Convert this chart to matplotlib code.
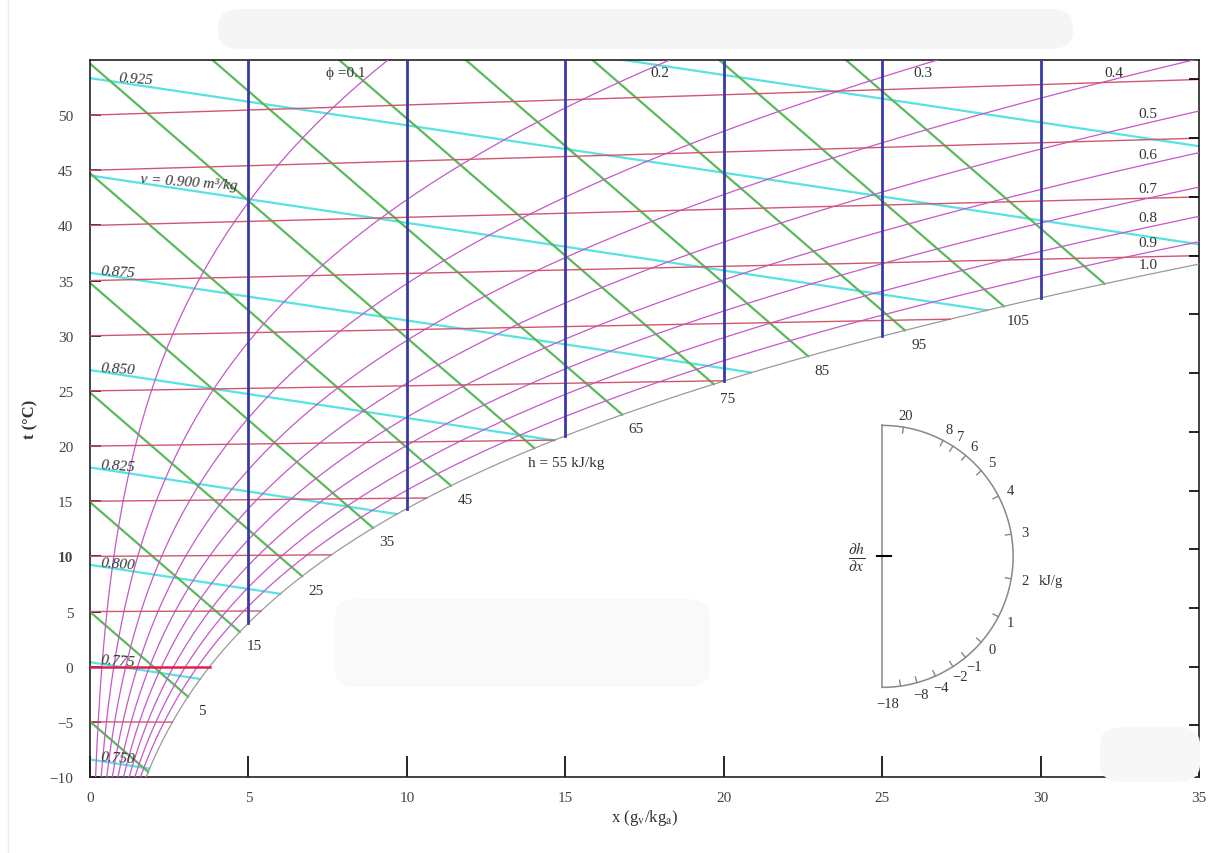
import numpy as np
import matplotlib.pyplot as plt
import matplotlib.transforms as mtransforms
from matplotlib.patches import FancyBboxPatch

plt.rcParams['font.family'] = ['Liberation Serif', 'DejaVu Serif']
plt.rcParams['mathtext.fontset'] = 'stix'

# ---- chart values ----
P = 101.325  # total pressure, kPa

rh_levels = [0.1, 0.2, 0.3, 0.4, 0.5, 0.6, 0.7, 0.8, 0.9, 1.0]
t_levels = [-5, 0, 5, 10, 15, 20, 25, 30, 35, 40, 45, 50]
h_levels = [-5, 5, 15, 25, 35, 45, 55, 65, 75, 85, 95, 105, 115]
h_labelled = [5, 15, 25, 35, 45, 55, 65, 75, 85, 95, 105]
v_levels = [0.750, 0.775, 0.800, 0.825, 0.850, 0.875, 0.900, 0.925, 0.950]
v_labelled = ['0.750', '0.775', '0.800', '0.825', '0.850', '0.875',
              'v = 0.900 m³/kg', '0.925']
x_verticals = [5, 10, 15, 20, 25, 30]
x_ticks = [0, 5, 10, 15, 20, 25, 30, 35]
t_ticks = [-10, -5, 0, 5, 10, 15, 20, 25, 30, 35, 40, 45, 50]
slope_ticks = [20, 8, 7, 6, 5, 4, 3, 2, 1, 0, -1, -2, -4, -8, -18]


# ---- psychrometric relations ----
def psat(t):
    return 0.61094 * np.exp(17.625 * t / (t + 243.04))

def x_of(t, phi):
    pv = phi * psat(t)
    return 622.0 * pv / (P - pv)

def t_of(x, phi):
    pv = P * x / (622.0 + x) / phi
    a = np.log(pv / 0.61094)
    return 243.04 * a / (17.625 - a)

def ycoord(t, x):
    # Mollier-type ordinate: t=0 isotherm horizontal
    return t * (1.006 + 0.00186 * x) / 1.006

def enth(t, x):
    return 1.006 * t + x * (2.501 + 0.00186 * t)


fig = plt.figure(figsize=(12.11, 8.54), dpi=100)
fig.patch.set_facecolor('white')

# faint smudges of the scanned original
for (x0, y0, w, h, c) in [(218, 10, 855, 40, '#f5f5f5'), (335, 600, 375, 88, '#f9f9f9'),
                          (1100, 728, 100, 55, '#f7f7f7')]:
    fig.patches.append(FancyBboxPatch((x0 / 1211, 1 - (y0 + h) / 854), w / 1211, h / 854,
                                      boxstyle='round,pad=0,rounding_size=0.02',
                                      transform=fig.transFigure, fc=c, ec='none',
                                      zorder=0))
fig.lines.append(plt.Line2D([8 / 1211, 8 / 1211], [0, 1], transform=fig.transFigure,
                            color='#ececec', lw=1))

ax = fig.add_axes([90 / 1211, 1 - 778 / 854, 1109 / 1211, 717 / 854])
ax.set_facecolor('none')
ax.set_xlim(0, 35)
ax.set_ylim(-10, 55)

tg = np.linspace(-10, 60, 1400)

# relative humidity curves
for phi in rh_levels:
    xs = x_of(tg, phi)
    ys = ycoord(tg, xs)
    m = (xs <= 36) & (ys <= 57)
    if phi == 1.0:
        ax.plot(xs[m], ys[m], color='#9a9a9a', lw=0.9, zorder=3)
    else:
        ax.plot(xs[m], ys[m], color='#c658c8', lw=0.9, zorder=3)

# isotherms
for t in t_levels:
    xe = min(x_of(t, 1.0), 35)
    xx = np.array([0, xe])
    if t == 0:
        ax.plot(xx, ycoord(t, xx), color='#e0204a', lw=1.8, zorder=4)
    else:
        ax.plot(xx, ycoord(t, xx), color='#d0566e', lw=1.0, zorder=4)

# specific volume lines
xg = np.linspace(0, 35, 1400)
for v in v_levels:
    tv = v * P / (0.287055 * (1 + 1.6078 * xg / 1000)) - 273.15
    m = tv >= t_of(np.maximum(xg, 1e-6), 1.0)
    ax.plot(xg[m], ycoord(tv[m], xg[m]), color='#58e2e2', lw=1.6, zorder=2)

# enthalpy lines
hs_curve = enth(tg, x_of(tg, 1.0))
h_ends = {}
for h in h_levels:
    te = np.interp(h, hs_curve, tg)
    xe = x_of(te, 1.0)
    xx = np.array([0, xe])
    ax.plot(xx, (h - 2.501 * xx) / 1.006, color='#5aba5a', lw=1.6, zorder=2)
    h_ends[h] = (xe, (h - 2.501 * xe) / 1.006)

# constant humidity ratio verticals
for xv in x_verticals:
    ax.plot([xv, xv], [ycoord(t_of(xv, 1.0), xv), 55], color='#3a3aa6', lw=2, zorder=5)

# ---- labels on the chart ----
lab = dict(fontsize=11, color='#333333', zorder=6)
for h in h_labelled:
    xe, ye = h_ends[h]
    if h == 55:
        ax.annotate('h = 55 kJ/kg', (xe, ye), xytext=(-6, -14), textcoords='offset pixels',
                    ha='left', va='center', **lab)
    else:
        ax.annotate(str(h), (xe, ye), xytext=(14, -14), textcoords='offset pixels',
                    ha='center', va='center', **lab)

for v, txt in zip(v_levels, v_labelled):
    x0 = 1.6 if txt.startswith('v') else (0.9 if txt == '0.925' else 0.35)
    tv = v * P / (0.287055 * (1 + 1.6078 * x0 / 1000)) - 273.15
    ax.text(x0, ycoord(tv, x0) + 0.4, txt, ha='left', va='center', rotation=-4,
            rotation_mode='anchor', style='italic', **lab)

top_phi = {0.1: (8.7, 'right', 'ϕ =0.1'), 0.2: (18.0, 'center', '0.2'),
           0.3: (26.3, 'center', '0.3'), 0.4: (32.3, 'center', '0.4')}
for phi, (xl, ha, txt) in top_phi.items():
    ax.text(xl, 53.9, txt, ha=ha, va='center', **lab)
for phi in rh_levels[4:]:
    xl = 33.2
    ax.text(xl - 0.1, ycoord(t_of(xl, phi), xl) + 1.0, f'{phi:.1f}', ha='left',
            va='center', **lab)

# ---- axes ----
ax.set_xticks(x_ticks)
ax.set_yticks(t_ticks)
ax.set_xticklabels([str(v) for v in x_ticks])
ax.set_yticklabels([str(v).replace('-', '\u2212') for v in t_ticks])
for lbl in ax.get_yticklabels():
    if lbl.get_text() == '10':
        lbl.set_fontweight('bold')
ax.tick_params(axis='x', direction='in', length=15, width=1.2, labelsize=11,
               labelcolor='#444444', pad=10)
ax.tick_params(axis='y', direction='in', length=8, width=1.2, labelsize=11,
               labelcolor='#444444', pad=12)
for s in ax.spines.values():
    s.set_linewidth(1.2)
    s.set_color('#222222')

ax2 = ax.twinx()
ax2.set_ylim(-10, 55)
ax2.set_yticks([ycoord(t, 35) for t in t_levels])
ax2.set_yticklabels([])
ax2.tick_params(axis='y', direction='in', length=7, width=1.2)
for s in ax2.spines.values():
    s.set_visible(False)

ax.set_xlabel(r'x (g$_\mathrm{v}$/kg$_\mathrm{a}$)', fontsize=12, color='#333333', labelpad=2)
ax.set_ylabel('t (°C)', fontsize=12, color='#333333', labelpad=8, fontweight='bold')

# ---- protractor for dh/dx ----
ident = mtransforms.IdentityTransform()
cx, cy = ax.transData.transform((25, 10))
p0 = ax.transData.transform((0, 0))
p1 = ax.transData.transform((1, 1))
sx, sy = p1 - p0
R = 131
ang = np.linspace(-np.pi / 2, np.pi / 2, 200)
pc = '#888888'
ax.add_line(plt.Line2D(cx + R * np.cos(ang), cy + R * np.sin(ang), transform=ident,
                       color=pc, lw=1.1, zorder=6))
ax.add_line(plt.Line2D([cx, cx], [cy - R, cy + R], transform=ident, color=pc, lw=1.1, zorder=6))
ax.add_line(plt.Line2D([cx - 5, cx + 9], [cy, cy], transform=ident, color='black', lw=1.5,
                       zorder=6))
for q in slope_ticks:
    a = np.arctan2((q - 2.501) / 1.006 * sy, sx)
    ca, sa = np.cos(a), np.sin(a)
    ax.add_line(plt.Line2D([cx + (R - 6) * ca, cx + R * ca], [cy + (R - 6) * sa, cy + R * sa],
                           transform=ident, color=pc, lw=1.0, zorder=6))
    txt = str(q).replace('-', '\u2212')
    if q == -18:
        lx, ly = cx + 6, cy - R - 16
    else:
        lx, ly = cx + (R + 14) * ca, cy + (R + 12) * sa
    ax.text(lx, ly, txt, transform=ident, ha='center', va='center', fontsize=10.5,
            color='#333333', zorder=6)
    if q == 2:
        ax.text(lx + 14, ly, 'kJ/g', transform=ident, ha='left',
                va='center', fontsize=10.5, color='#333333', zorder=6)
ax.text(cx - 26, cy, r'$\frac{\partial h}{\partial x}$', transform=ident, ha='center',
        va='center', fontsize=16, color='#333333', zorder=6)

fig.savefig('out.png', dpi=100)
